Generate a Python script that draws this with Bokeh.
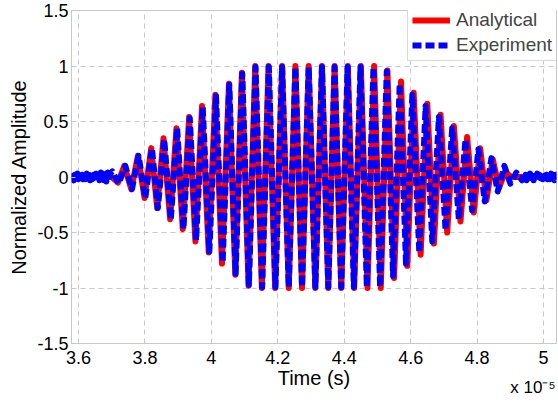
from bokeh.plotting import figure
from bokeh.embed import file_html
from bokeh.resources import INLINE
from bokeh.models import Range1d, FixedTicker, LinearAxis

# Time in units of 1e-5 s
red_t = [3.579, 3.700, 3.719, 3.738, 3.759, 3.779, 3.799, 3.819, 3.837, 3.856,
         3.876, 3.895, 3.914, 3.933, 3.952, 3.972, 3.992, 4.012, 4.032, 4.053,
         4.072, 4.092, 4.112, 4.132, 4.152, 4.172, 4.192, 4.213, 4.233, 4.253,
         4.273, 4.293, 4.313, 4.333, 4.352, 4.371, 4.391, 4.411, 4.430, 4.450,
         4.470, 4.490, 4.510, 4.530, 4.550, 4.571, 4.590, 4.609, 4.630, 4.650,
         4.670, 4.690, 4.710, 4.730, 4.750, 4.770, 4.790, 4.809, 4.828, 4.847,
         4.866, 4.884, 4.902, 5.039]
red_v = [0.0, 0.0, -0.05, 0.10, -0.11, 0.19, -0.19, 0.26, -0.28, 0.35,
         -0.38, 0.44, -0.47, 0.54, -0.58, 0.64, -0.68, 0.74, -0.78, 0.84,
         -0.88, 0.94, -0.98, 1.0, -1.0, 1.0, -1.0, 1.0, -1.0, 1.0,
         -1.0, 1.0, -1.0, 1.0, -1.0, 1.0, -1.0, 1.0, -1.0, 1.0,
         -1.0, 1.0, -1.0, 0.96, -0.91, 0.86, -0.80, 0.76, -0.70, 0.66,
         -0.60, 0.56, -0.50, 0.46, -0.40, 0.36, -0.32, 0.26, -0.21, 0.16,
         -0.10, 0.05, 0.0, 0.0]

# experiment: pre-burst noise, burst, post-burst noise
blue_pre_t = [3.579, 3.583, 3.586, 3.590, 3.593, 3.597, 3.600, 3.604, 3.607, 3.611,
              3.614, 3.618, 3.621, 3.625, 3.628, 3.632, 3.635, 3.639, 3.642, 3.646,
              3.649, 3.653, 3.656, 3.660, 3.663, 3.667, 3.670, 3.674, 3.677, 3.681,
              3.684, 3.688, 3.691, 3.695, 3.702]
blue_pre_v = [-0.02, 0.01, -0.03, 0.02, -0.01, 0.03, -0.02, 0.01, -0.03, 0.02,
              -0.02, 0.01, -0.02, 0.03, -0.01, 0.02, -0.03, 0.01, -0.02, 0.02,
              -0.03, 0.03, -0.01, 0.02, -0.03, 0.04, -0.02, 0.03, -0.03, 0.02,
              -0.04, 0.04, -0.03, 0.03, 0.05]
blue_burst_t = [3.721, 3.741, 3.761, 3.781, 3.801, 3.821, 3.839, 3.858, 3.878, 3.897,
                3.916, 3.935, 3.954, 3.974, 3.994, 4.014, 4.034, 4.054, 4.073, 4.093,
                4.113, 4.133, 4.153, 4.173, 4.193, 4.213, 4.233, 4.253, 4.273, 4.293,
                4.313, 4.333, 4.352, 4.371, 4.391, 4.410, 4.429, 4.449, 4.468, 4.488,
                4.508, 4.528, 4.547, 4.567, 4.586, 4.605, 4.626, 4.645, 4.665, 4.685,
                4.705, 4.725, 4.745, 4.765, 4.785, 4.804, 4.823, 4.843, 4.862, 4.882,
                4.900, 4.918, 4.935]
blue_burst_v = [-0.06, 0.10, -0.11, 0.19, -0.19, 0.26, -0.28, 0.34, -0.38, 0.44,
                -0.47, 0.53, -0.57, 0.63, -0.67, 0.73, -0.77, 0.83, -0.87, 0.93,
                -0.97, 0.99, -0.99, 0.99, -0.99, 0.99, -0.99, 0.99, -0.99, 0.99,
                -0.99, 0.99, -0.99, 0.99, -0.99, 0.99, -0.99, 0.99, -0.99, 0.99,
                -0.99, 0.95, -0.89, 0.84, -0.78, 0.74, -0.68, 0.64, -0.58, 0.54,
                -0.48, 0.44, -0.38, 0.34, -0.30, 0.25, -0.22, 0.17, -0.13, 0.10,
                -0.06, 0.04, -0.03]
blue_post_t = [4.939, 4.942, 4.946, 4.949, 4.953, 4.956, 4.960, 4.963, 4.967, 4.970,
               4.974, 4.977, 4.981, 4.984, 4.988, 4.991, 4.995, 4.998, 5.002, 5.005,
               5.009, 5.012, 5.016, 5.019, 5.023, 5.026, 5.030, 5.033, 5.037, 5.039]
blue_post_v = [0.03, -0.02, 0.02, -0.03, 0.02, -0.02, 0.03, -0.01, 0.02, -0.03,
               0.01, -0.02, 0.03, -0.02, 0.02, -0.01, 0.03, -0.02, 0.01, -0.03,
               0.02, -0.02, 0.01, -0.02, 0.03, -0.01, 0.02, -0.03, 0.02, 0.0]

x_ticks = [3.6, 3.8, 4.0, 4.2, 4.4, 4.6, 4.8, 5.0]
x_labels = ["3.6", "3.8", "4", "4.2", "4.4", "4.6", "4.8", "5"]
y_ticks = [-1.5, -1.0, -0.5, 0.0, 0.5, 1.0, 1.5]
y_labels = ["-1.5", "-1", "-0.5", "0", "0.5", "1", "1.5"]
exp_pos = 4.968
exp_label = "x 10\u207b\u2075"

FONT = "Liberation Sans"
GREY = "#c8c8c8"

blue_t = blue_pre_t + blue_burst_t + blue_post_t
blue_v = blue_pre_v + blue_burst_v + blue_post_v

p = figure(width=558, height=402, output_backend="svg", toolbar_location=None,
           x_range=Range1d(3.579, 5.039), y_range=Range1d(-1.5, 1.5),
           min_border_left=71, min_border_right=2, min_border_top=10, min_border_bottom=59)
p.background_fill_color = "white"
p.border_fill_color = "white"
p.outline_line_color = GREY
p.outline_line_width = 1

for ax in (p.xaxis[0], p.yaxis[0]):
    ax.axis_line_color = None
    ax.major_tick_line_color = GREY
    ax.major_tick_in = 4
    ax.major_tick_out = 0
    ax.minor_tick_line_color = None
    ax.major_label_text_font = FONT
    ax.major_label_text_font_size = "18px"
    ax.major_label_text_color = "black"
    ax.axis_label_text_font = FONT
    ax.axis_label_text_font_size = "20px"
    ax.axis_label_text_font_style = "normal"
    ax.axis_label_text_color = "black"

p.xaxis.ticker = FixedTicker(ticks=x_ticks)
p.xaxis.major_label_overrides = dict(zip(x_ticks, x_labels))
p.yaxis.ticker = FixedTicker(ticks=y_ticks)
p.yaxis.major_label_overrides = dict(zip(y_ticks, y_labels))
p.xaxis.axis_label = "Time (s)"
p.yaxis.axis_label = "Normalized Amplitude"
p.xaxis.major_label_standoff = 7
p.yaxis.major_label_standoff = 3
p.xaxis.axis_label_standoff = 0
p.yaxis.axis_label_standoff = 4

# exponent note "x 10^-5" at the lower right
exp_axis = LinearAxis(ticker=FixedTicker(ticks=[exp_pos]),
                      major_label_overrides={exp_pos: exp_label})
exp_axis.axis_line_color = None
exp_axis.major_tick_line_color = None
exp_axis.minor_tick_line_color = None
exp_axis.major_tick_in = 0
exp_axis.major_tick_out = 0
exp_axis.major_label_standoff = -14
exp_axis.major_label_text_font = FONT
exp_axis.major_label_text_font_size = "17px"
exp_axis.major_label_text_color = "black"
p.add_layout(exp_axis, "below")

for g in (p.xgrid[0], p.ygrid[0]):
    g.grid_line_color = GREY
    g.grid_line_dash = "5 4"
    g.grid_line_width = 1

p.line(red_t, red_v, line_color="#ff0000", line_width=6, line_join="round",
       legend_label="Analytical")
p.line(blue_t, blue_v, line_color="#0000ff", line_width=6, line_join="round",
       line_dash="9 4", legend_label="Experiment")

lg = p.legend[0]
lg.location = (336, 282)
lg.label_text_font = FONT
lg.label_text_font_size = "19px"
lg.glyph_width = 38
lg.glyph_height = 20
lg.label_height = 20
lg.label_standoff = 6
lg.spacing = 3
lg.padding = 4
lg.margin = 0
lg.border_line_color = "#b4b4b4"
lg.border_line_width = 1
lg.background_fill_color = "white"
lg.background_fill_alpha = 1.0

open("out.html", "w").write(file_html(p, INLINE))
